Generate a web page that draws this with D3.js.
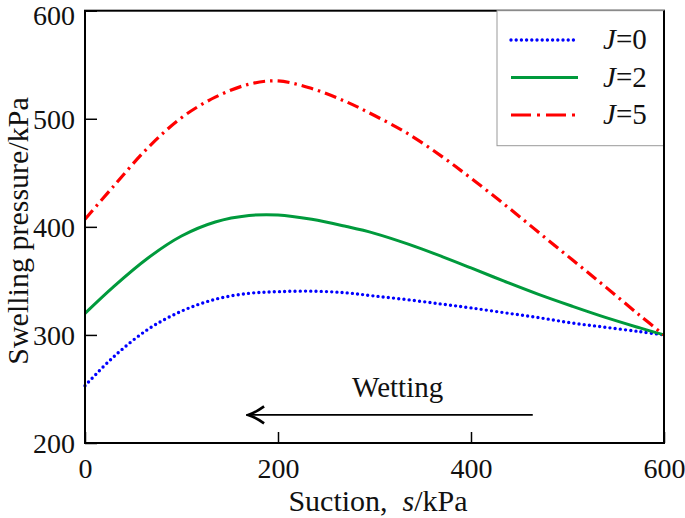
<!DOCTYPE html>
<html>
<head>
<meta charset="utf-8">
<script src="https://cdn.jsdelivr.net/npm/d3@7"></script>
<style>
  html, body { margin: 0; padding: 0; background: #fff; }
  svg { display: block; }
  svg text { font-family: "Liberation Serif", "Times New Roman", Times, "DejaVu Serif", serif; fill: #111; }
</style>
</head>
<body>
<svg id="chart" width="685" height="518"></svg>
<script>
// ---- data ----
const suction = [0, 30, 65, 100, 135, 170, 200, 235, 270, 300, 335, 370, 400, 435, 470, 505, 540, 575, 600];
const j0 = [253, 280, 305, 322, 333, 338.5, 340, 340.5, 339, 336, 332.5, 328.5, 325, 320.5, 316, 311, 307, 303, 300];
const j2 = [320, 345, 371, 391.5, 404.5, 410.5, 411, 407, 400.5, 394, 384, 372.5, 362, 349.5, 337.5, 326.5, 316, 306.5, 300];
const j5 = [407, 438, 473, 501, 520, 532, 535, 528, 516, 503, 486, 465, 445, 420.5, 395, 369.5, 344, 318, 300];
const seriesNames = ["0", "2", "5"];
const xTicks = [0, 200, 400, 600];
const yTicks = [200, 300, 400, 500, 600];
const arrowFrom = [464, 226];
const arrowTo = [169, 226];
const wettingLabel = [324, 242.5];

// ---- layout ----
const svg = d3.select("#chart");
const L = 85, R = 664, T = 10.7, B = 443;
const x = d3.scaleLinear().domain([0, 600]).range([L, R]);
const y = d3.scaleLinear().domain([200, 600]).range([B, T]);
const FONT = '"Liberation Serif", "Times New Roman", Times, "DejaVu Serif", serif';

const styles = [
  { color: "#0000ff", dash: "0,5.2", cap: "round", width: 3.4 },
  { color: "#009a3c", dash: null, cap: "butt", width: 3 },
  { color: "#ff0000", dash: "12,5,2.5,5", cap: "butt", width: 3.2 }
];
const data = [j0, j2, j5];

const line = d3.line()
  .x((d, i) => x(suction[i]))
  .y(d => y(d))
  .curve(d3.curveCatmullRom.alpha(0.5));

// curves
data.forEach((vals, k) => {
  const st = styles[k];
  svg.append("path")
    .attr("d", line(vals))
    .attr("fill", "none")
    .attr("stroke", st.color)
    .attr("stroke-width", st.width)
    .attr("stroke-linecap", st.cap)
    .attr("stroke-dasharray", st.dash);
});

// axes frame
svg.append("rect")
  .attr("x", L).attr("y", T).attr("width", R - L).attr("height", B - T)
  .attr("fill", "none").attr("stroke", "#000").attr("stroke-width", 2);

// left axis
const yAxis = d3.axisLeft(y).tickValues(yTicks).tickSizeInner(-12).tickSizeOuter(0).tickPadding(10);
const gy = svg.append("g").attr("transform", `translate(${L},0)`).call(yAxis).attr("font-family", FONT);
gy.select(".domain").remove();
gy.selectAll("line").attr("stroke", "#000").attr("stroke-width", 1.5);
gy.selectAll("text").attr("font-size", 28).attr("fill", "#111")
  .attr("dy", d => d === 600 ? "0.5em" : "0.35em");

// bottom axis
const xAxis = d3.axisBottom(x).tickValues(xTicks).tickSizeInner(-11).tickSizeOuter(0).tickPadding(15);
const gx = svg.append("g").attr("transform", `translate(0,${B})`).call(xAxis).attr("font-family", FONT);
gx.select(".domain").remove();
gx.selectAll("line").attr("stroke", "#000").attr("stroke-width", 1.5);
gx.selectAll("text").attr("font-size", 28).attr("fill", "#111");

// axis titles
const xt = svg.append("text").attr("x", 378).attr("y", 511).attr("text-anchor", "middle").attr("font-size", 30);
xt.append("tspan").text("Suction,\u00a0\u00a0");
xt.append("tspan").attr("font-style", "italic").text("s");
xt.append("tspan").text("/kPa");

svg.append("text")
  .attr("transform", `translate(28,231) rotate(-90)`)
  .attr("text-anchor", "middle").attr("font-size", 30)
  .text("Swelling pressure/kPa");

// wetting arrow
svg.append("defs").append("marker")
  .attr("id", "arr").attr("viewBox", "0 0 20 20").attr("refX", 18).attr("refY", 10)
  .attr("markerWidth", 20).attr("markerHeight", 20).attr("markerUnits", "userSpaceOnUse")
  .attr("orient", "auto")
  .append("path").attr("d", "M2,1.5 Q11,8 18,10 Q11,12 2,18.5").attr("fill", "none")
  .attr("stroke", "#000").attr("stroke-width", 2.6).attr("stroke-linejoin", "miter");
svg.append("line")
  .attr("x1", x(arrowFrom[0])).attr("y1", y(arrowFrom[1]))
  .attr("x2", x(arrowTo[0])).attr("y2", y(arrowTo[1]))
  .attr("stroke", "#000").attr("stroke-width", 1.8)
  .attr("marker-end", "url(#arr)");
svg.append("text").attr("x", x(wettingLabel[0])).attr("y", y(wettingLabel[1]))
  .attr("text-anchor", "middle").attr("font-size", 29).text("Wetting");

// legend
const lg = svg.append("g");
lg.append("rect").attr("x", 497).attr("y", T).attr("width", R - 497).attr("height", 135)
  .attr("fill", "#fff").attr("stroke", "#999").attr("stroke-width", 1);
svg.append("line").attr("x1", R).attr("x2", R).attr("y1", T).attr("y2", B).attr("stroke", "#000").attr("stroke-width", 2);
seriesNames.forEach((n, k) => {
  const cy = 40 + k * 37.5;
  const st = styles[k];
  lg.append("line").attr("x1", 511).attr("x2", 578).attr("y1", cy).attr("y2", cy)
    .attr("stroke", st.color).attr("stroke-width", st.width)
    .attr("stroke-linecap", st.cap).attr("stroke-dasharray", k === 2 ? "20,6,3,6" : st.dash);
  const t = lg.append("text").attr("x", 603).attr("y", cy + 9).attr("font-size", 29);
  t.append("tspan").attr("font-style", "italic").text("J");
  t.append("tspan").text("=" + n);
});
</script>
</body>
</html>
